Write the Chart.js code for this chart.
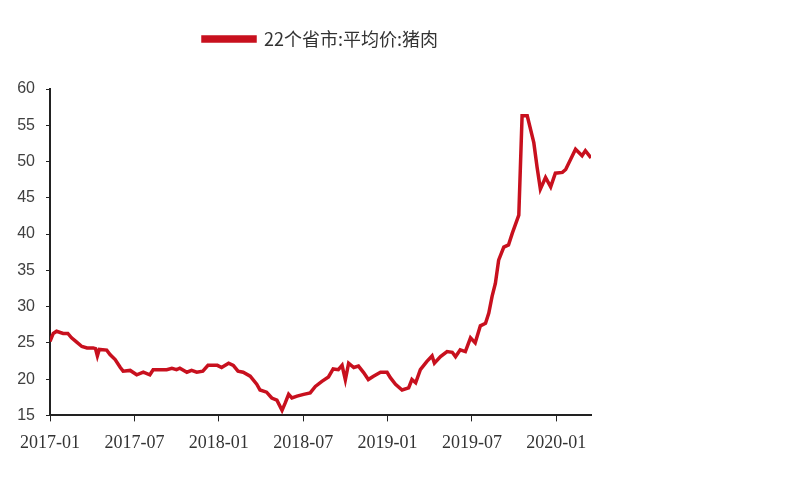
<!DOCTYPE html>
<html>
<head>
<meta charset="utf-8">
<script src="https://cdn.jsdelivr.net/npm/chart.js@4"></script>
<style>
  body { margin: 0; background: #fff; }
  #wrap { width: 800px; height: 500px; }
</style>
</head>
<body>
<div id="wrap"><canvas id="porkChart"></canvas></div>
<script>
// 22个省市 平均价 猪肉 (元/公斤)
const seriesName = "22个省市:平均价:猪肉";
const dates = [
  "2017-01-01", "2017-01-08", "2017-01-15", "2017-01-29", "2017-02-09", "2017-02-17",
  "2017-02-28", "2017-03-09", "2017-03-20", "2017-04-03", "2017-04-08", "2017-04-12",
  "2017-04-16", "2017-05-02", "2017-05-09", "2017-05-20", "2017-05-31", "2017-06-07",
  "2017-06-22", "2017-07-06", "2017-07-20", "2017-08-04", "2017-08-11", "2017-09-10",
  "2017-09-21", "2017-10-01", "2017-10-08", "2017-10-23", "2017-11-03", "2017-11-14",
  "2017-11-27", "2017-12-08", "2017-12-28", "2018-01-07", "2018-01-22", "2018-02-02",
  "2018-02-12", "2018-02-23", "2018-03-08", "2018-03-22", "2018-03-29", "2018-04-13",
  "2018-04-24", "2018-05-05", "2018-05-16", "2018-05-23", "2018-05-30", "2018-06-07",
  "2018-06-18", "2018-07-02", "2018-07-16", "2018-07-27", "2018-08-11", "2018-08-25",
  "2018-09-05", "2018-09-16", "2018-09-24", "2018-10-01", "2018-10-08", "2018-10-19",
  "2018-10-29", "2018-11-10", "2018-11-20", "2018-12-01", "2018-12-16", "2018-12-30",
  "2019-01-07", "2019-01-18", "2019-02-02", "2019-02-16", "2019-02-23", "2019-03-01",
  "2019-03-11", "2019-03-25", "2019-04-06", "2019-04-11", "2019-04-24", "2019-05-08",
  "2019-05-19", "2019-05-26", "2019-06-06", "2019-06-17", "2019-06-28", "2019-07-08",
  "2019-07-19", "2019-07-30", "2019-08-07", "2019-08-14", "2019-08-21", "2019-08-28",
  "2019-09-09", "2019-09-19", "2019-09-27", "2019-10-11", "2019-10-18", "2019-10-29",
  "2019-11-13", "2019-11-20", "2019-11-27", "2019-12-08", "2019-12-19", "2019-12-29",
  "2020-01-14", "2020-01-21", "2020-02-12", "2020-02-26", "2020-03-03", "2020-03-15"
];
const prices = [
  25.2, 26.3, 26.6, 26.3, 26.3, 25.7,
  25.1, 24.5, 24.3, 24.3, 24.2, 23.2,
  24.1, 24.0, 23.4, 22.7, 21.6, 21.1,
  21.2, 20.6, 20.95, 20.6, 21.3, 21.3,
  21.5, 21.3, 21.5, 20.95, 21.2, 20.95,
  21.1, 21.9, 21.9, 21.6, 22.2, 21.9,
  21.1, 20.95, 20.4, 19.3, 18.5, 18.2,
  17.4, 17.1, 15.7, 16.75, 17.9, 17.4,
  17.65, 17.9, 18.1, 19.0, 19.7, 20.3,
  21.4, 21.3, 21.9, 19.9, 22.2, 21.6,
  21.8, 20.9, 19.95, 20.4, 20.95, 20.95,
  20.2, 19.3, 18.5, 18.8, 19.95, 19.5,
  21.3, 22.45, 23.2, 22.2, 23.1, 23.8,
  23.7, 23.1, 24.05, 23.8, 25.7, 25.0,
  27.35, 27.7, 29.1, 31.4, 33.2, 36.4,
  38.2, 38.5, 40.1, 42.6, 56.3, 56.3,
  52.6, 49.2, 46.2, 47.8, 46.5, 48.4,
  48.5, 48.9, 51.7, 50.8, 51.5, 50.5
];

// months counted from 2017-01
function monthIndex(s) {
    const [y, m, d] = s.split("-").map(Number);
    return (y - 2017) * 12 + (m - 1) + (d - 1) / 30;
}

const points = dates.map((d, i) => ({ x: monthIndex(d), y: prices[i] }));
const lineRed = "#c8101e";

// extra room between legend and plot
const legendGap = {
    id: "legendGap",
    beforeInit(chart) {
        const origFit = chart.legend.fit;
        chart.legend.fit = function () {
            origFit.bind(chart.legend)();
            this.height += 31;
        };
    }
};

new Chart(document.getElementById("porkChart"), {
    type: "line",
    data: {
        datasets: [{
            label: seriesName,
            data: points,
            borderColor: lineRed,
            backgroundColor: lineRed,
            borderWidth: 3.5,
            pointRadius: 0,
            tension: 0
        }]
    },
    options: {
        responsive: true,
        maintainAspectRatio: false,
        animation: false,
        layout: {
            padding: { top: 18, right: 209, bottom: 35, left: 0 }
        },
        scales: {
            x: {
                type: "linear",
                min: 0,
                max: points[points.length - 1].x,
                grid: {
                    display: true,
                    drawOnChartArea: false,
                    drawTicks: true,
                    tickLength: 6,
                    color: "#222"
                },
                border: { display: true, color: "#222", width: 2 },
                ticks: {
                    stepSize: 6,
                    includeBounds: false,
                    maxRotation: 0,
                    padding: 11,
                    color: "#333",
                    font: { family: "'Liberation Serif', serif", size: 18 },
                    callback: v => {
                        const y = 2017 + Math.floor(v / 12);
                        const m = (v % 12) + 1;
                        return `${y}-${String(m).padStart(2, "0")}`;
                    }
                }
            },
            y: {
                min: 15,
                max: 60,
                afterFit: scale => { scale.width = 50; },
                grid: {
                    display: true,
                    drawOnChartArea: false,
                    drawTicks: true,
                    tickLength: 4,
                    color: "#222"
                },
                border: { display: true, color: "#222", width: 2 },
                ticks: {
                    stepSize: 5,
                    padding: 11,
                    color: "#404040",
                    font: { family: "'Liberation Sans', sans-serif", size: 16 }
                }
            }
        },
        plugins: {
            legend: {
                display: true,
                position: "top",
                fullSize: false,
                labels: {
                    boxWidth: 52,
                    boxHeight: 4,
                    padding: 12,
                    color: "#333",
                    font: { family: "'Noto Sans CJK SC', sans-serif", size: 18 }
                }
            },
            tooltip: { enabled: false }
        }
    },
    plugins: [legendGap]
});
</script>
</body>
</html>
